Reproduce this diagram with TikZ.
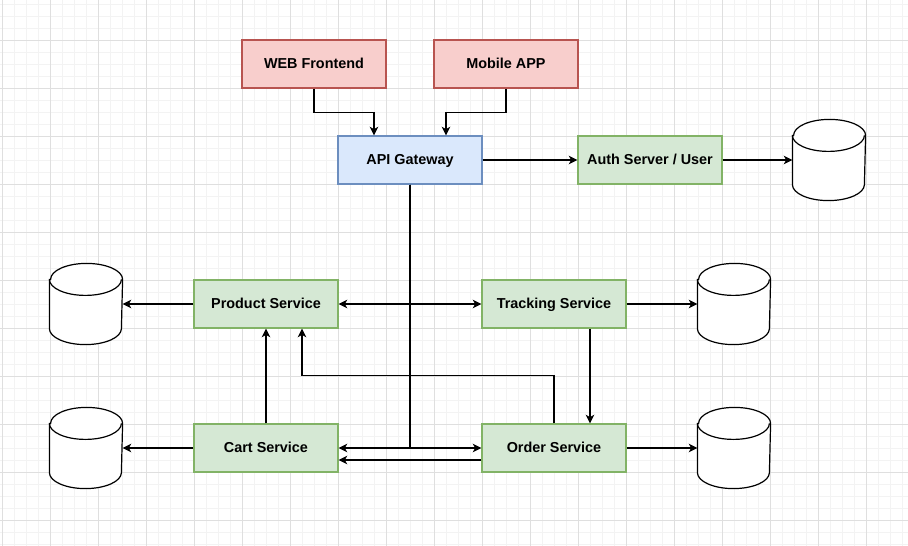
\documentclass[tikz,border=0pt]{standalone}
\usepackage{fontspec}
\setmainfont{Liberation Sans}
\usetikzlibrary{arrows.meta}

\definecolor{redfill}{HTML}{F8CECC}
\definecolor{redline}{HTML}{B85450}
\definecolor{bluefill}{HTML}{DAE8FC}
\definecolor{blueline}{HTML}{6C8EBF}
\definecolor{greenfill}{HTML}{D5E8D4}
\definecolor{greenline}{HTML}{82B366}
\definecolor{gridminor}{HTML}{F3F3F3}
\definecolor{gridmajor}{HTML}{DFDFDF}

\tikzset{every picture/.style={line width=0.9pt}}
\tikzset{
  svcbox/.style={draw, line width=0.9pt, minimum width=108pt, minimum height=36pt, inner sep=0pt,
    text height=7.8pt, text depth=0.8pt, font=\fontsize{10.8}{13}\selectfont\bfseries},
  clientbox/.style={svcbox, fill=redfill, draw=redline},
  gatewaybox/.style={svcbox, fill=bluefill, draw=blueline},
  servicebox/.style={svcbox, fill=greenfill, draw=greenline},
  datastore/.style={rectangle, minimum width=54pt, minimum height=60pt, inner sep=0pt},
  link/.style={draw, line width=0.9pt, -{Stealth[length=6.5pt,width=6.5pt,inset=1.8pt]}},
}

% cylinder drawn round a named node
\newcommand{\dbcylinder}[1]{%
  \draw[fill=white, line width=0.9pt] ([yshift=12pt]#1.north west) -- ([yshift=-12pt]#1.south west)
    arc[start angle=180, end angle=0, x radius=27pt, y radius=12pt]
    -- ([yshift=12pt]#1.north east)
    arc[start angle=0, end angle=-180, x radius=27pt, y radius=12pt] -- cycle;
  \draw[line width=0.9pt] ([yshift=12pt]#1.north west)
    arc[start angle=180, end angle=0, x radius=27pt, y radius=12pt];
}

\begin{document}
\begin{tikzpicture}[x=0.75pt,y=0.75pt,yscale=-1,xscale=1]
    \useasboundingbox (0,0) rectangle (908,546);

    %Grid
    \fill[white] (0,0) rectangle (908,546);
    \foreach \gx in {2,14,...,906} \draw[gridminor, line width=0.75pt] (\gx,0) -- (\gx,546);
    \foreach \gy in {4,16,...,544} \draw[gridminor, line width=0.75pt] (0,\gy) -- (908,\gy);
    \foreach \gx in {2,50,...,906} \draw[gridmajor, line width=0.75pt] (\gx,0) -- (\gx,546);
    \foreach \gy in {40,88,...,544} \draw[gridmajor, line width=0.75pt] (0,\gy) -- (908,\gy);

    %Clients
    \node[clientbox] (web) at (314,64) {WEB Frontend};
    \node[clientbox] (mobile) at (506,64) {Mobile APP};
    %Gateway
    \node[gatewaybox] (api) at (410,160) {API Gateway};
    \node[servicebox] (auth) at (650,160) {Auth Server / User};
    %Services
    \node[servicebox] (product) at (266,304) {Product Service};
    \node[servicebox] (tracking) at (554,304) {Tracking Service};
    \node[servicebox] (cart) at (266,448) {Cart Service};
    \node[servicebox] (order) at (554,448) {Order Service};
    %Databases
    \node[datastore] (authdb) at (829,160) {};
    \node[datastore] (productdb) at (86,304) {};
    \node[datastore] (cartdb) at (86,448) {};
    \node[datastore] (trackingdb) at (734,304) {};
    \node[datastore] (orderdb) at (734,448) {};
    \foreach \db in {authdb,productdb,cartdb,trackingdb,orderdb} \dbcylinder{\db};

    %Client links
    \draw[link] (web.south) -- ++(0,24) -| ([xshift=-27pt]api.north);
    \draw[link] (mobile.south) -- ++(0,24) -| ([xshift=27pt]api.north);
    \draw[link] (api.east) -- (auth.west);
    \draw[link] (auth.east) -- (authdb.west);

    %Gateway to services
    \draw[link] (api.south) |- (product.east);
    \draw[link] (api.south) |- (tracking.west);
    \draw[link] (api.south) |- (cart.east);
    \draw[link] (api.south) |- (order.west);

    %Service links
    \draw[link] (cart.north) -- (product.south);
    \draw[link] (order.north) -- ++(0,-48) -| ([xshift=27pt]product.south);
    \draw[link] ([xshift=27pt]tracking.south) -- ([xshift=27pt]order.north);
    \draw[link] ([yshift=9pt]order.west) -- ([yshift=9pt]cart.east);

    %Database links
    \draw[link] (product.west) -- (productdb.east);
    \draw[link] (cart.west) -- (cartdb.east);
    \draw[link] (tracking.east) -- (trackingdb.west);
    \draw[link] (order.east) -- (orderdb.west);

\end{tikzpicture}
\end{document}
